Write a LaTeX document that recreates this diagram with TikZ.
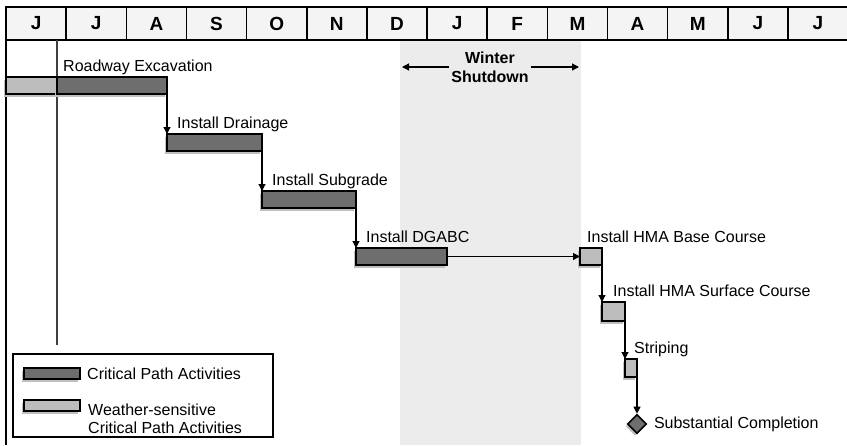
\documentclass[tikz,border=0pt]{standalone}
\usepackage{fontspec}
\setmainfont{Liberation Sans}
\usepackage{tikz}
\usetikzlibrary{positioning, arrows.meta, shapes.geometric, shadows}

\definecolor{critgray}{HTML}{6E6E6E}
\definecolor{wxgray}{HTML}{BDBDBD}
\definecolor{wintergray}{HTML}{EBECEB}
\definecolor{headgray}{HTML}{F4F4F4}

\begin{document}
\begin{tikzpicture}[
        x=1pt, y=-1pt,                  % units like pixels, y grows downwards
        >={Triangle[length=7pt,width=7pt]},
        font=\fontsize{16}{17.5}\selectfont,
        month/.style={                  % cells of the month header
            draw, line width=1.6pt, fill=headgray,
            anchor=north west, inner sep=0pt, outer sep=0pt,
            minimum width=60.15pt, minimum height=33pt,
            font=\fontsize{19}{20}\selectfont\bfseries
        },
        bar/.style={                    % one activity bar
            draw, line width=1.6pt, anchor=north west,
            inner sep=0pt, outer sep=0pt,
            drop shadow={shadow xshift=-2pt, shadow yshift=-2.5pt,
                fill=black!25, opacity=1}
        },
        crit/.style={bar, fill=critgray},   % critical path
        wx/.style={bar, fill=wxgray},       % weather-sensitive
        lbl/.style={inner sep=0pt, anchor=base west},
        flow/.style={->, line width=1.1pt}
    ]

    \useasboundingbox (0,0) rectangle (847,445);

    % --- Winter shutdown band ---
    \node[fill=wintergray, anchor=north west, inner sep=0pt, outer sep=0pt,
        minimum width=181pt, minimum height=405pt] (winter) at (400,40) {};

    % --- Month header ---
    \foreach \m [count=\i] in {J,J,A,S,O,N,D,J,F,M,A,M,J,J}
        \node[month] (m\i) at ({6+60.15*(\i-1)}, 7) {\m};

    % left border and start line
    \coordinate (bottom) at (0,445);
    \draw[line width=2.5pt] (m1.north west) -- (m1.north west |- bottom);
    \coordinate (starttop) at (57,40);
    \coordinate (startbot) at (57,345);
    \draw[line width=1.2pt, black!75] (starttop) -- (startbot);

    % winter label
    \node[font=\fontsize{16}{19}\selectfont\bfseries, align=center,
        inner sep=2pt] (wtext) at (490,67) {Winter\\Shutdown};
    \coordinate (wl) at (402,67);
    \coordinate (wr) at (579,67);
    \draw[flow] (wtext.west) -- (wl);
    \draw[flow] (wtext.east) -- (wr);

    % --- Activities ---
    \node[wx, minimum width=51pt, minimum height=17pt] (excw) at (6,77) {};
    \node[crit, minimum width=110pt, minimum height=17pt] (exc) at (57,77) {};
    \node[crit, minimum width=95pt, minimum height=17pt] (drain) at (167,134) {};
    \node[crit, minimum width=94pt, minimum height=17pt] (subg) at (262,191) {};
    \node[crit, minimum width=91pt, minimum height=17pt] (dgabc) at (356,248) {};
    \node[wx, minimum width=22pt, minimum height=17pt] (hmab) at (580,248) {};
    \node[wx, minimum width=23pt, minimum height=19pt] (hmas) at (602,302) {};
    \node[wx, minimum width=12pt, minimum height=18pt] (strip) at (625,359) {};
    \node[diamond, draw, line width=1.6pt, fill=critgray, aspect=1,
        minimum size=19pt, inner sep=0pt,
        drop shadow={shadow xshift=-2pt, shadow yshift=-2.5pt,
            fill=black!25, opacity=1}] (done) at (637,424) {};

    % --- Labels ---
    \node[lbl, above right=5.5pt and 6pt of exc.north west, anchor=base west] {Roadway Excavation};
    \node[lbl, above right=5.5pt and 10pt of drain.north west, anchor=base west] {Install Drainage};
    \node[lbl, above right=5.5pt and 10pt of subg.north west, anchor=base west] {Install Subgrade};
    \node[lbl, above right=5.5pt and 10pt of dgabc.north west, anchor=base west] {Install DGABC};
    \node[lbl, above right=5.5pt and 7pt of hmab.north west, anchor=base west] {Install HMA Base Course};
    \node[lbl, above right=5.5pt and 11pt of hmas.north west, anchor=base west] {Install HMA Surface Course};
    \node[lbl, above right=5.5pt and 9pt of strip.north west, anchor=base west] {Striping};
    \node[inner sep=0pt, right=6.5pt of done.east] {Substantial Completion};

    % --- Links ---
    \draw[flow] (exc.south east) -- (drain.north west);
    \draw[flow] (drain.south east) -- (subg.north west);
    \draw[flow] (subg.south east) -- (dgabc.north west);
    \draw[flow] (dgabc.east) -- (hmab.west);
    \draw[flow] (hmab.south east) -- (hmas.north west);
    \draw[flow] (hmas.south east) -- (strip.north west);
    \draw[flow] (strip.south east) -- (done.north);

    % --- Legend ---
    \node[draw, line width=1.2pt, anchor=north west, inner sep=0pt, outer sep=0pt,
        minimum width=260pt, minimum height=83pt] (legend) at (13,354) {};
    \node[crit, minimum width=56pt, minimum height=11pt] (keycrit) at (24,368) {};
    \node[wx, minimum width=56pt, minimum height=11pt] (keywx) at (24,400) {};
    \node[inner sep=0pt, right=7pt of keycrit.east] {Critical Path Activities};
    \node[inner sep=0pt, align=left, below right=4pt and 8pt of keywx.north east,
        anchor=north west] {Weather-sensitive\\Critical Path Activities};

\end{tikzpicture}
\end{document}
